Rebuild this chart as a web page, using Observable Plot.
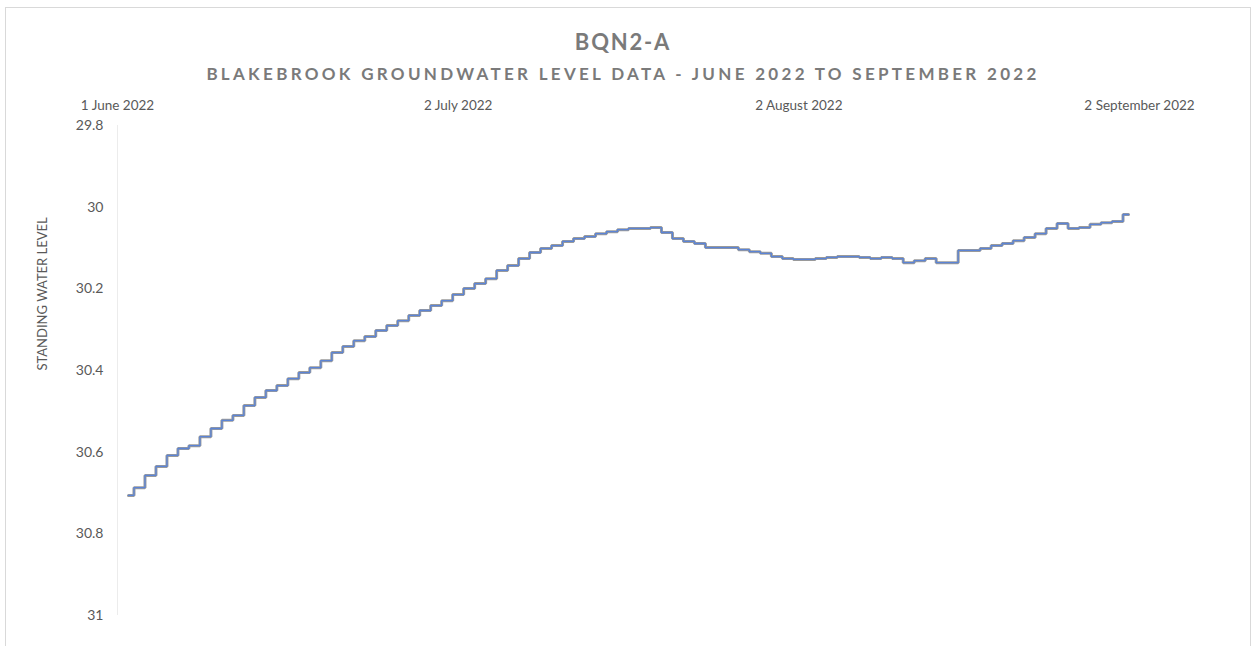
<!DOCTYPE html>
<html>
<head>
<meta charset="utf-8">
<script src="https://cdn.jsdelivr.net/npm/d3@7"></script>
<script src="https://cdn.jsdelivr.net/npm/@observablehq/plot@0.6"></script>
<style>
  html, body { margin: 0; padding: 0; background: #fff; }
  #wrap { position: relative; width: 1258px; height: 646px; overflow: hidden; font-family: Lato, "Open Sans", sans-serif; }
  #frame { position: absolute; left: 5px; top: 7px; width: 1246px; height: 650px; border: 1px solid #d9d9d9; box-sizing: border-box; }
  #title { position: absolute; left: 0; width: 1246px; top: 28px; text-align: center; font-size: 22px; font-weight: bold; color: #7a7a7a; letter-spacing: 1.8px; }
  #subtitle { position: absolute; left: 0; width: 1246px; top: 63px; text-align: center; font-size: 17px; font-weight: bold; color: #7a7a7a; letter-spacing: 3.3px; }
  #chart { position: absolute; left: 0; top: 90px; }
</style>
</head>
<body>
<div id="wrap">
  <div id="frame"></div>
  <div id="title">BQN2-A</div>
  <div id="subtitle">BLAKEBROOK GROUNDWATER LEVEL DATA - JUNE 2022 TO SEPTEMBER 2022</div>
  <div id="chart"></div>
</div>
<script>
// Daily standing water level readings, 2 June 2022 onward (one per day)
const startDate = "2022-06-02";
const levels = [
  30.706, 30.687, 30.657, 30.635, 30.608, 30.591, 30.584, 30.562, 30.542, 30.522,
  30.510, 30.486, 30.466, 30.449, 30.437, 30.420, 30.405, 30.393, 30.376, 30.356,
  30.341, 30.327, 30.317, 30.302, 30.290, 30.278, 30.265, 30.253, 30.241, 30.229,
  30.214, 30.199, 30.187, 30.175, 30.155, 30.143, 30.126, 30.111, 30.101, 30.094,
  30.084, 30.077, 30.072, 30.065, 30.060, 30.055, 30.052, 30.052, 30.050, 30.062,
  30.077, 30.084, 30.089, 30.099, 30.099, 30.099, 30.104, 30.109, 30.113, 30.121,
  30.126, 30.128, 30.128, 30.126, 30.123, 30.121, 30.121, 30.123, 30.126, 30.123,
  30.126, 30.136, 30.131, 30.126, 30.136, 30.136, 30.106, 30.106, 30.101, 30.094,
  30.089, 30.082, 30.074, 30.065, 30.052, 30.040, 30.052, 30.050, 30.042, 30.038,
  30.035, 30.018
];
const xTickDates = ["2022-06-01", "2022-07-02", "2022-08-02", "2022-09-02"];
const yTicks = [29.8, 30, 30.2, 30.4, 30.6, 30.8, 31];
const yLabel = "STANDING WATER LEVEL";
const monthNames = ["January","February","March","April","May","June","July","August","September","October","November","December"];

const start = new Date(startDate + "T00:00:00Z");
const data = levels.map((v, i) => ({ date: new Date(start.getTime() + i * 86400000), level: v }));
const xTicks = xTickDates.map(s => new Date(s + "T00:00:00Z"));
const fmtDate = d => `${d.getUTCDate()} ${monthNames[d.getUTCMonth()]} ${d.getUTCFullYear()}`;

const chart = Plot.plot({
  width: 1258,
  height: 556,
  marginLeft: 117,
  marginRight: 119,
  marginTop: 35,
  marginBottom: 31,
  style: { fontFamily: "Lato, 'Open Sans', sans-serif", fontSize: "13px", color: "#595959", background: "transparent" },
  x: { type: "utc", domain: [xTicks[0], xTicks[xTicks.length - 1]] },
  y: { domain: [29.8, 31], reverse: true },
  marks: [
    Plot.ruleX([xTicks[0]], { stroke: "#ececec" }),
    Plot.axisX({ anchor: "top", ticks: xTicks, tickFormat: fmtDate, tickSize: 0, tickPadding: 16, label: null, fontSize: 13.5 }),
    Plot.axisY({ ticks: yTicks, tickFormat: d => String(d), tickSize: 0, tickPadding: 14, label: null, fontSize: 14 }),
    Plot.text([yLabel], { frameAnchor: "left", dx: -75, rotate: -90, fontSize: 13, fill: "#595959" }),
    Plot.line(data, { x: "date", y: "level", curve: "step", stroke: "#9a9a9a", strokeWidth: 3, strokeLinejoin: "miter" }),
    Plot.line(data, { x: "date", y: "level", curve: "step", stroke: "#5b84d6", strokeWidth: 1.3, strokeLinejoin: "miter" })
  ]
});
document.getElementById("chart").appendChild(chart);
</script>
</body>
</html>
